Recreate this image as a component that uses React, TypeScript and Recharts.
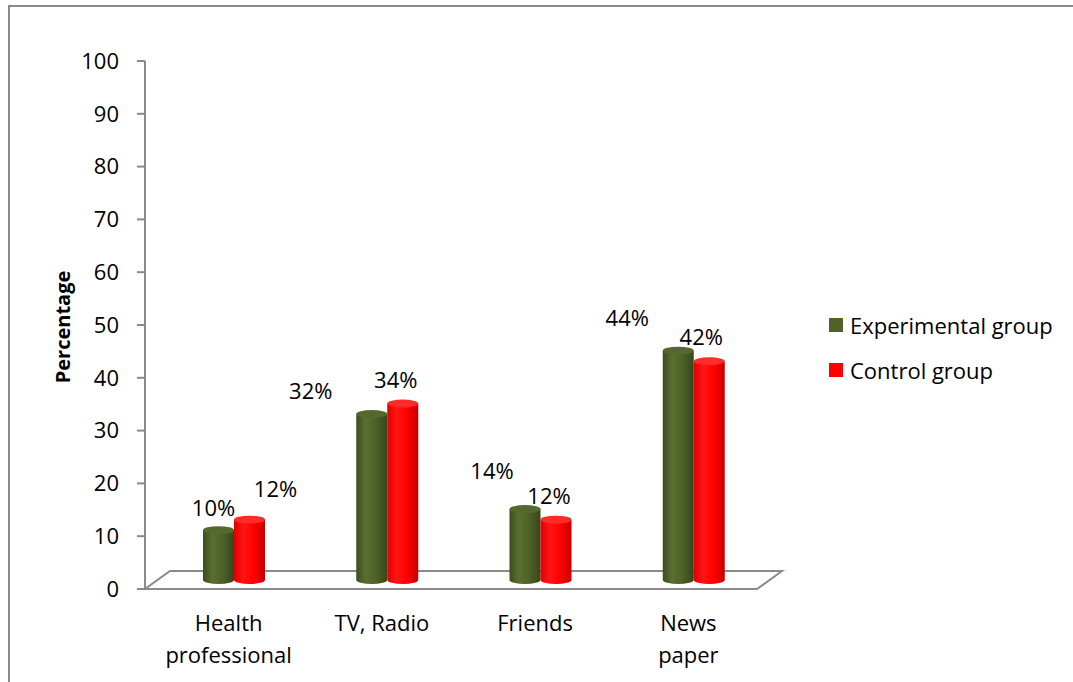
import { BarChart, Bar, XAxis, YAxis, LabelList, ReferenceArea } from 'recharts';

const categories = ['Health professional', 'TV, Radio', 'Friends', 'News paper'];
const categoryLines = [['Health', 'professional'], ['TV, Radio'], ['Friends'], ['News', 'paper']];
const experimental = [10, 32, 14, 44];
const control = [12, 34, 12, 42];
const yTicks = [0, 10, 20, 30, 40, 50, 60, 70, 80, 90, 100];
const seriesNames = ['Experimental group', 'Control group'];

// hand placed data labels in the original (Excel), kept as offsets from the bar top
const expLabelShift = [[-5, -29], [-61, -30], [-33, -45], [-51, -40]];
const ctlLabelShift = [[26, -38], [-7, -30], [-7, -31], [-8, -31]];

const data = categories.map((c, i) => ({
  name: c,
  experimental: experimental[i],
  control: control[i],
}));

const FONT = '"Open Sans", sans-serif';
const FS = 22;
const GRAY = '#8a8a8a';
const GREEN = '#4F6228';
const RED = '#FF0000';
const X_PAD = 12;

const Cylinder = (props: any) => {
  const { x, y, width, height, gradId, topFill } = props;
  if (width == null || height == null) return null;
  const rx = width / 2;
  const ry = 4;
  const cx = x + rx;
  const topC = y - 6;
  const botC = y + height - 9;
  const body = `M ${x} ${topC} L ${x} ${botC} A ${rx} ${ry} 0 0 0 ${x + width} ${botC} L ${x + width} ${topC} Z`;
  return (
    <g>
      <path d={body} fill={`url(#${gradId})`} />
      <ellipse cx={cx} cy={topC} rx={rx} ry={ry} fill={topFill} />
    </g>
  );
};

const makeLabel = (shift: number[][]) => (props: any) => {
  const { x, y, width, value, index } = props;
  const [dx, dy] = shift[index] || [0, -20];
  return (
    <text
      x={x + width / 2 + dx}
      y={y + dy}
      textAnchor="middle"
      dominantBaseline="central"
      fontFamily={FONT}
      fontSize={FS}
      fill="#000"
    >
      {value}%
    </text>
  );
};

const Floor = (props: any) => {
  const { x, y, width, height } = props;
  // the reference area spans the padded band, the floor spans the whole plot
  const left = x - X_PAD;
  const w = width + X_PAD * 2;
  const bottom = y + height;
  const dx = 25;
  const dy = 18;
  const pts = [
    [left, bottom],
    [left + w - dx, bottom],
    [left + w, bottom - dy],
    [left + dx, bottom - dy],
  ]
    .map((p) => p.join(','))
    .join(' ');
  return <polygon points={pts} fill="#fff" stroke={GRAY} strokeWidth={2} />;
};

const CategoryTick = (props: any) => {
  const { x, y, index } = props;
  const lines = categoryLines[index] || [];
  return (
    <g>
      {lines.map((ln, i) => (
        <text
          key={i}
          x={x - 5}
          y={y + 33 + i * 32}
          textAnchor="middle"
          dominantBaseline="central"
          fontFamily={FONT}
          fontSize={FS}
          fill="#000"
        >
          {ln}
        </text>
      ))}
    </g>
  );
};

const LegendBox = () => (
  <div style={{ position: 'absolute', left: 829, top: 313, fontFamily: FONT, fontSize: FS, color: '#000' }}>
    {seriesNames.map((n, i) => (
      <div key={n} style={{ display: 'flex', alignItems: 'center', height: 24, marginBottom: 21, whiteSpace: 'nowrap' }}>
        <span
          style={{
            width: 14,
            height: 14,
            background: i === 0 ? GREEN : RED,
            display: 'inline-block',
            marginRight: 7,
          }}
        />
        <span>{n}</span>
      </div>
    ))}
  </div>
);

export default function App() {
  return (
    <div style={{ position: 'absolute', left: 0, top: 0, width: 1073, height: 682, background: '#fff', overflow: 'hidden' }}>
      <div
        style={{
          position: 'absolute',
          left: 8,
          top: 5,
          right: -4,
          bottom: -4,
          borderLeft: `2px solid ${GRAY}`,
          borderTop: `2px solid ${GRAY}`,
        }}
      />
      <svg width={0} height={0} style={{ position: 'absolute' }}>
        <defs>
          <linearGradient id="gradGreen" x1="0" y1="0" x2="1" y2="0">
            <stop offset="0%" stopColor="#3d4c1d" />
            <stop offset="30%" stopColor="#5a6f31" />
            <stop offset="65%" stopColor="#4d6027" />
            <stop offset="100%" stopColor="#37451a" />
          </linearGradient>
          <linearGradient id="gradRed" x1="0" y1="0" x2="1" y2="0">
            <stop offset="0%" stopColor="#e00000" />
            <stop offset="30%" stopColor="#ff1414" />
            <stop offset="65%" stopColor="#ff0000" />
            <stop offset="100%" stopColor="#c40000" />
          </linearGradient>
        </defs>
      </svg>
      <div style={{ position: 'absolute', left: 0, top: 0 }}>
        <BarChart
          width={1073}
          height={682}
          data={data}
          margin={{ top: 61, right: 291, bottom: 13, left: 85 }}
          barSize={31}
          barGap={0}
        >
          <ReferenceArea y1={0} y2={3.4} shape={<Floor />} ifOverflow="visible" />
          <XAxis
            dataKey="name"
            axisLine={false}
            tickLine={false}
            tickSize={0}
            tickMargin={0}
            height={80}
            padding={{ left: X_PAD, right: X_PAD }}
            interval={0}
            tick={<CategoryTick />}
          />
          <YAxis
            width={60}
            domain={[0, 100]}
            ticks={yTicks}
            interval={0}
            axisLine={{ stroke: GRAY, strokeWidth: 2 }}
            tickLine={{ stroke: GRAY, strokeWidth: 2 }}
            tickSize={8}
            tickMargin={18}
            tick={{ fill: '#000', fontSize: FS, fontFamily: FONT }}
            label={{
              content: () => (
                <text
                  x={62}
                  y={327}
                  transform="rotate(-90, 62, 327)"
                  textAnchor="middle"
                  dominantBaseline="central"
                  fontFamily={FONT}
                  fontSize={20}
                  fontWeight="bold"
                  fill="#000"
                >
                  Percentage
                </text>
              ),
            }}
          />
          <Bar
            dataKey="experimental"
            name={seriesNames[0]}
            fill={GREEN}
            isAnimationActive={false}
            shape={<Cylinder gradId="gradGreen" topFill="#55692e" />}
          >
            <LabelList dataKey="experimental" content={makeLabel(expLabelShift)} />
          </Bar>
          <Bar
            dataKey="control"
            name={seriesNames[1]}
            fill={RED}
            isAnimationActive={false}
            shape={<Cylinder gradId="gradRed" topFill="#ff2a2a" />}
          >
            <LabelList dataKey="control" content={makeLabel(ctlLabelShift)} />
          </Bar>
        </BarChart>
      </div>
      <LegendBox />
    </div>
  );
}
